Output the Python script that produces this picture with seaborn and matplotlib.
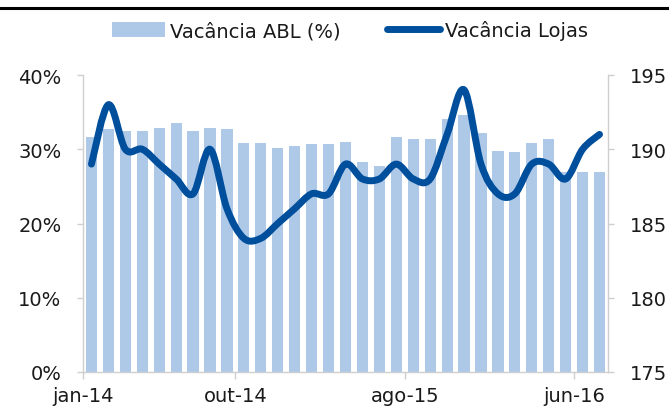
import numpy as np
import pandas as pd
import matplotlib
matplotlib.use("Agg")
import matplotlib.pyplot as plt
import seaborn as sns
from matplotlib.path import Path
from matplotlib.patches import PathPatch, Patch
from matplotlib.lines import Line2D

# ---------------- data ----------------
months = ["jan-14", "fev-14", "mar-14", "abr-14", "mai-14", "jun-14", "jul-14", "ago-14",
          "set-14", "out-14", "nov-14", "dez-14", "jan-15", "fev-15", "mar-15", "abr-15",
          "mai-15", "jun-15", "jul-15", "ago-15", "set-15", "out-15", "nov-15", "dez-15",
          "jan-16", "fev-16", "mar-16", "abr-16", "mai-16", "jun-16", "jul-16"]
vacancia_abl = [31.7, 32.7, 32.4, 32.5, 32.8, 33.5, 32.5, 32.9, 32.7, 30.9,
                30.9, 30.2, 30.5, 30.7, 30.7, 31.0, 28.3, 27.7, 31.6, 31.4,
                31.4, 34.1, 34.6, 32.2, 29.8, 29.6, 30.8, 31.4, 27.0, 27.0, 27.0]
vacancia_lojas = [189, 193, 190, 190, 189, 188, 187, 190, 186, 184,
                  184, 185, 186, 187, 187, 189, 188, 188, 189, 188,
                  188, 191, 194, 189, 187, 187, 189, 189, 188, 190, 191]
tick_months = ["jan-14", "out-14", "ago-15", "jun-16"]
left_ticks = [0, 10, 20, 30, 40]
left_tick_labels = ["0%", "10%", "20%", "30%", "40%"]
right_ticks = [175, 180, 185, 190, 195]
series_labels = ["Vacância ABL (%)", "Vacância Lojas"]

# ---------------- style ----------------
bar_color = "#aec8e8"
line_color = "#004f9c"
spine_color = "#cfcfcf"
text_color = "#1a1a1a"
fs = 14

sns.set_theme(style="white")
plt.rcParams["font.family"] = ["DejaVu Sans"]

W, H = 669, 414
fig = plt.figure(figsize=(W / 100, H / 100), dpi=100)
ax = fig.add_axes([83 / W, 1 - 373 / H, (608 - 83) / W, (373 - 76) / H])

df = pd.DataFrame({"mes": months, "abl": vacancia_abl, "lojas": vacancia_lojas})
sns.barplot(data=df, x="mes", y="abl", order=months, color=bar_color,
            saturation=1, width=0.66, linewidth=0, ax=ax)
ax.set_xlim(-0.5, len(months) - 0.5)
ax.set_ylim(left_ticks[0], left_ticks[-1])
ax.set_xlabel("")
ax.set_ylabel("")
ax.set_yticks(left_ticks, left_tick_labels)
xt = [months.index(m) - 0.5 for m in tick_months]
ax.set_xticks(xt, tick_months)

for s in ["top", "right"]:
    ax.spines[s].set_visible(False)
for s in ["left", "bottom"]:
    ax.spines[s].set_color(spine_color)
    ax.spines[s].set_linewidth(1.0)

ax.tick_params(axis="y", left=True, direction="out", length=4.5, width=1,
               color=spine_color, pad=11, labelsize=fs, labelcolor=text_color)
ax.tick_params(axis="x", bottom=True, direction="out", length=5, width=1,
               color=spine_color, pad=5, labelsize=fs, labelcolor=text_color)

# ---------------- secondary axis: smoothed line ----------------
ax2 = ax.twinx()
ax2.set_ylim(right_ticks[0], right_ticks[-1])
ax2.set_yticks(right_ticks, [str(t) for t in right_ticks])
for s in ["top", "left", "bottom"]:
    ax2.spines[s].set_visible(False)
ax2.spines["right"].set_color(spine_color)
ax2.spines["right"].set_linewidth(1.0)
ax2.tick_params(axis="y", right=True, direction="out", length=4.5, width=1,
                color=spine_color, pad=11, labelsize=fs, labelcolor=text_color)
ax2.grid(False)
ax.grid(False)

# Excel-style smoothed curve (cubic Bezier through each data point)
P = np.column_stack([np.arange(len(vacancia_lojas)), np.asarray(vacancia_lojas, float)])
n = len(P)
verts = [tuple(P[0])]
codes = [Path.MOVETO]
for i in range(n - 1):
    p0 = P[i - 1] if i > 0 else P[i]
    p1, p2 = P[i], P[i + 1]
    p3 = P[i + 2] if i + 2 < n else P[i + 1]
    c1 = p1 + (p2 - p0) / 6.0
    c2 = p2 - (p3 - p1) / 6.0
    verts += [tuple(c1), tuple(c2), tuple(p2)]
    codes += [Path.CURVE4] * 3
patch = PathPatch(Path(verts, codes), facecolor="none", edgecolor=line_color,
                  linewidth=5, capstyle="round", joinstyle="round")
ax2.add_patch(patch)

# ---------------- legend ----------------
handles = [Patch(facecolor=bar_color, edgecolor="none"),
           Line2D([0], [0], color=line_color, lw=5, solid_capstyle="round")]
fig.legend(handles, series_labels, loc="center", bbox_to_anchor=(0.523, 1 - 31 / H),
           ncol=2, frameon=False, fontsize=fs, handlelength=2.7, handleheight=0.85,
           handletextpad=0.26, columnspacing=2.4, labelcolor=text_color)

# top black rule
fig.add_artist(Line2D([0, 1], [1 - 9 / H, 1 - 9 / H], color="black", lw=2.2,
                      transform=fig.transFigure))

fig.savefig("out.png", dpi=100)
